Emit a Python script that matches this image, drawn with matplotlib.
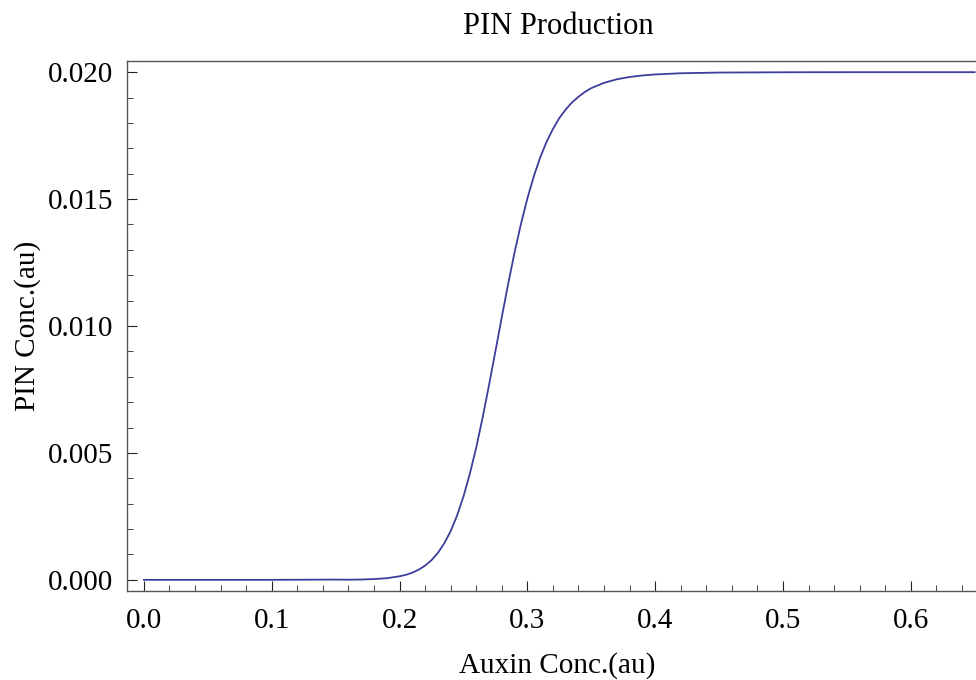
import matplotlib
matplotlib.use("Agg")
import matplotlib.pyplot as plt
from matplotlib.ticker import MultipleLocator

# values
auxin = [0.0, 0.05, 0.10, 0.15, 0.16, 0.17, 0.18, 0.19, 0.20, 0.205, 0.21,
         0.215, 0.22, 0.225, 0.23, 0.235, 0.24, 0.245, 0.25, 0.255, 0.26,
         0.265, 0.27, 0.275, 0.28, 0.285, 0.29, 0.295, 0.30, 0.305, 0.31,
         0.315, 0.32, 0.325, 0.33, 0.335, 0.34, 0.345, 0.35, 0.36, 0.37,
         0.38, 0.39, 0.40, 0.42, 0.45, 0.50, 0.55, 0.65]
pin = [0.0, 0.0, 0.0, 0.00001, 0.000005, 0.000012, 0.00003, 0.000064,
       0.00014, 0.000198, 0.00028, 0.0004, 0.00056, 0.000775, 0.00106,
       0.00144, 0.00192, 0.00253, 0.00328, 0.00418, 0.00521, 0.00639,
       0.00767, 0.00900, 0.01035, 0.01166, 0.01290, 0.01402, 0.01502,
       0.01589, 0.01663, 0.01725, 0.01776, 0.01819, 0.01853, 0.01881,
       0.01903, 0.01922, 0.01937, 0.01958, 0.01972, 0.01981, 0.01987,
       0.01991, 0.019957, 0.019985, 0.019996, 0.02, 0.02]

x_ticks = [0.0, 0.1, 0.2, 0.3, 0.4, 0.5, 0.6]
y_ticks = [0.000, 0.005, 0.010, 0.015, 0.020]

plt.rcParams['font.family'] = ['Liberation Serif', 'DejaVu Serif']

fig = plt.figure(figsize=(9.76, 6.8), dpi=100)
# axes runs a bit past the right edge, like the cropped original
ax = fig.add_axes([127.3 / 976, 1 - 591 / 680, 864 / 976, 530 / 680])

ax.plot(auxin, pin, color='#3d3d9c', linewidth=1.3)

ax.set_xlim(-0.013, 0.663)
ax.set_ylim(-0.00044, 0.02044)
ax.set_xticks(x_ticks)
ax.set_yticks(y_ticks)
ax.set_xticklabels([f"{v:.1f}" for v in x_ticks])
ax.set_yticklabels([f"{v:.3f}" for v in y_ticks])
ax.xaxis.set_minor_locator(MultipleLocator(0.02))
ax.yaxis.set_minor_locator(MultipleLocator(0.001))

for s in ['left', 'bottom', 'top']:
    ax.spines[s].set_color('#555555')
    ax.spines[s].set_linewidth(1.0)
ax.spines['right'].set_visible(False)

ax.tick_params(which='major', direction='in', length=7.5, width=0.8,
               color='#222222', labelsize=21)
ax.tick_params(which='minor', direction='in', length=4, width=0.7,
               color='#444444')
ax.tick_params(axis='x', which='major', pad=12.5)
ax.tick_params(axis='y', which='major', pad=10)
ax.tick_params(top=False, right=False, which='both')

ax.set_title('PIN Production', fontsize=22, x=0.4985, y=1.051, pad=0,
             va='baseline')
ax.set_xlabel('Auxin Conc.(au)', fontsize=21)
ax.xaxis.set_label_coords(0.497, -0.1547)
ax.xaxis.label.set_va('baseline')
ax.set_ylabel('PIN Conc.(au)', fontsize=21)
ax.yaxis.set_label_coords(-0.116, 0.5)
ax.yaxis.label.set_va('center')

fig.savefig('out.png', dpi=100)
